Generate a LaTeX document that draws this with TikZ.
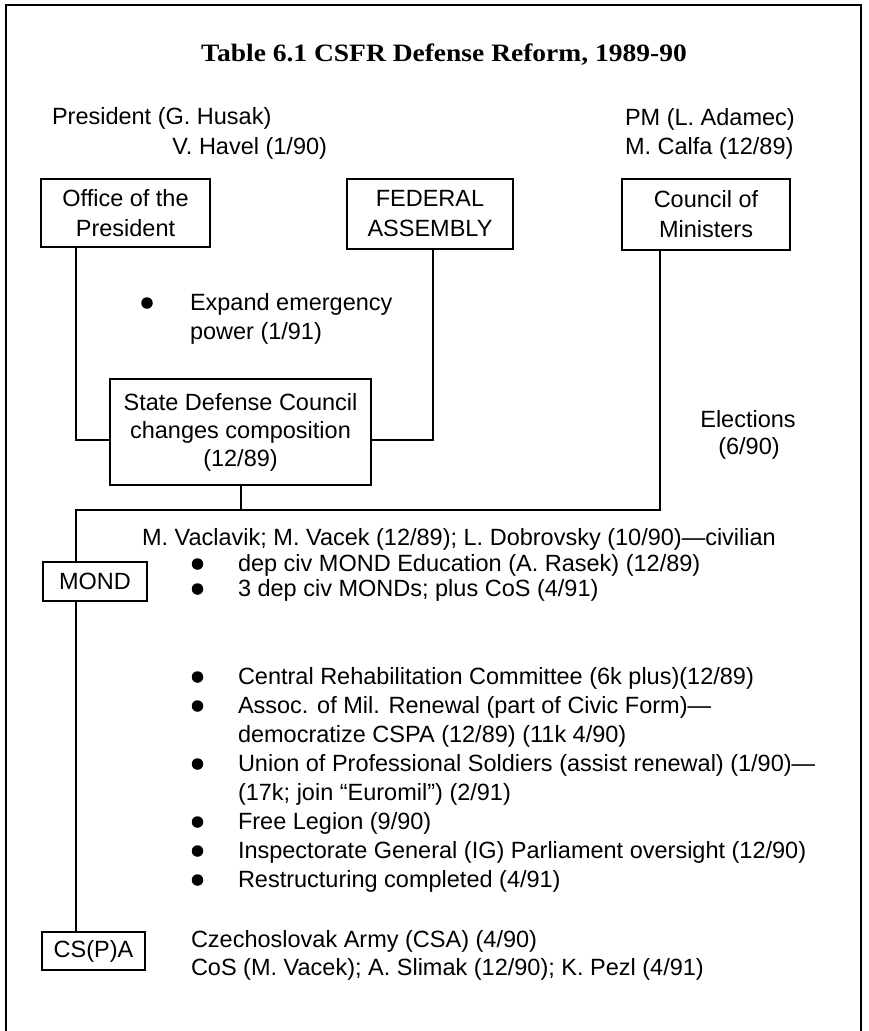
\documentclass[tikz,border=0pt]{standalone}
\usepackage{fontspec}
\setmainfont{Liberation Sans}
\newfontfamily\titlefont[FakeStretch=1.1]{Liberation Serif}
\begin{document}
\begin{tikzpicture}[x=1pt,y=-1pt,
  every node/.style={inner sep=0pt, outer sep=0pt},
  txt/.style={anchor=base west, font=\fontsize{23.5}{29}\selectfont},
  orgbox/.style={draw, line width=2.4pt, align=center, font=\fontsize{23.5}{30}\selectfont},
  dot/.style={circle, fill=black, minimum size=11.5pt},
  link/.style={line width=2pt},
]
\useasboundingbox (0,0) rectangle (868,1031);

% outer frame (open at the foot of the page)
\draw[line width=2pt] (6,1040) -- (6,5) -- (861,5) -- (861,1040);

% title
\node[font=\titlefont\bfseries\fontsize{25}{30}\selectfont] (title) at (444,55)
  {Table 6.1 CSFR Defense Reform, 1989-90};

% heads of state and government
\node[txt] (pres) at (52,124.5) {President (G. Husak)};
\node[txt, anchor=base east] (havel) at (327,154.5) {V. Havel (1/90)};
\node[txt] (pm) at (625,125) {PM (L. Adamec)};
\node[txt] (calfa) at (625,154.5) {M. Calfa (12/89)};

% institutions
\node[orgbox, minimum width=169pt, minimum height=68pt] (office) at (125.5,213) {Office of the\\President};
\node[orgbox, minimum width=166pt, minimum height=70pt] (fed) at (430,214) {FEDERAL\\ASSEMBLY};
\node[orgbox, minimum width=168pt, minimum height=71pt] (council) at (706,214.5) {Council of\\Ministers};
\node[orgbox, minimum width=261pt, minimum height=106pt, font=\fontsize{23.5}{28}\selectfont]
  (sdc) at (240.5,432) {State Defense Council\\changes composition\\(12/89)};
\node[orgbox, minimum width=104pt, minimum height=39pt] (mond) at (95,581.5) {MOND};
\node[orgbox, minimum width=103pt, minimum height=38pt] (cspa) at (93.5,951) {CS(P)A};

% emergency powers note
\node[dot] (d0) at (147,303) {};
\node[txt] (expand) at (190,310.5) {Expand emergency};
\node[txt] (expand2) at (190,339.5) {power (1/91)};

% elections note
\node[txt, anchor=base] (elect) at (748,427.5) {Elections};
\node[txt, anchor=base] (electdate) at (749,454.5) {(6/90)};

% connectors
\coordinate (bus) at (76,510);
\draw[link] ([xshift=35pt]office.south west) |- ([yshift=-8pt]sdc.west);
\draw[link] ([xshift=3pt]fed.south) |- ([yshift=-8pt]sdc.east);
\draw[link] (sdc.south) -- (sdc.south |- bus);
\draw[link] ([xshift=38pt]council.south west) |- (bus) -- ([xshift=33pt]mond.north west);
\draw[link] ([xshift=33pt]mond.south west) -- ([xshift=34pt]cspa.north west);

% ministry of national defence
\node[txt] (mond0) at (142,545.5) {M. Vaclavik; M. Vacek (12/89); L. Dobrovsky (10/90)—civilian};
\node[dot] (d1) at (197.5,564) {};
\node[txt] (mond1) at (238,571.5) {dep civ MOND Education (A. Rasek) (12/89)};
\node[dot] (d2) at (197.5,589) {};
\node[txt] (mond2) at (238,596.5) {3 dep civ MONDs; plus CoS (4/91)};

% reform bodies
\node[dot] (d3) at (197.5,677) {};
\node[txt] (r1) at (238,684.5) {Central Rehabilitation Committee (6k plus)(12/89)};
\node[dot] (d4) at (197.5,706) {};
\node[txt] (r2) at (238,713.5) {Assoc. of Mil. Renewal (part of Civic Form)—};
\node[txt] (r2b) at (238,742.5) {democratize CSPA (12/89) (11k 4/90)};
\node[dot] (d5) at (197.5,764) {};
\node[txt] (r3) at (238,771.5) {Union of Professional Soldiers (assist renewal) (1/90)—};
\node[txt] (r3b) at (238,800.5) {(17k; join “Euromil”) (2/91)};
\node[dot] (d6) at (197.5,822) {};
\node[txt] (r4) at (238,829.5) {Free Legion (9/90)};
\node[dot] (d7) at (197.5,851) {};
\node[txt] (r5) at (238,858.5) {Inspectorate General (IG) Parliament oversight (12/90)};
\node[dot] (d8) at (197.5,880) {};
\node[txt] (r6) at (238,887.5) {Restructuring completed (4/91)};

% army
\node[txt] (army1) at (191,947.5) {Czechoslovak Army (CSA) (4/90)};
\node[txt] (army2) at (191,975.5) {CoS (M. Vacek); A. Slimak (12/90); K. Pezl (4/91)};
\end{tikzpicture}
\end{document}
